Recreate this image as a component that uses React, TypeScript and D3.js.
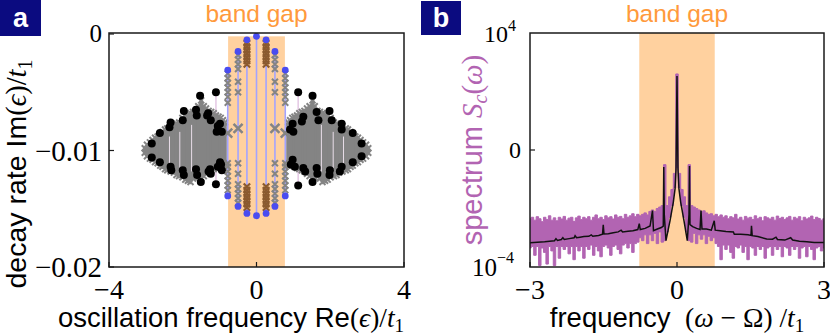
import React from 'react';
import * as d3 from 'd3';

// ---------- panel a: complex eigenvalues ----------
const bandGap = [-0.77, 0.77];

// blue dots in the gap (x, Im)
const blueDots = [
  [0, -0.0002], [0, -0.0156],
  [-0.26, -0.0005], [0.26, -0.0005], [-0.26, -0.0154], [0.26, -0.0154],
  [-0.5, -0.0015], [0.5, -0.0015], [-0.5, -0.0148], [0.5, -0.0148],
  [-0.78, -0.0031], [0.78, -0.0031], [-0.78, -0.0139], [0.78, -0.0139],
];

// blue connecting lines (x, top, bottom)
const blueLines = [
  [0, -0.0002, -0.0156], [-0.26, -0.0005, -0.0154], [0.26, -0.0005, -0.0154],
  [-0.5, -0.0015, -0.0148], [0.5, -0.0015, -0.0148],
  [-0.78, -0.0031, -0.0139], [0.78, -0.0031, -0.0139],
];

const brownX = [-0.26, 0.26];
const brownY = [-0.0008, -0.0011, -0.0014, -0.0017, -0.002, -0.0023, -0.0026,
  -0.0131, -0.0134, -0.0137, -0.014, -0.0143, -0.0146, -0.0149];

// gray crosses in gap columns
const gapGrayX77 = [-0.78, 0.78];
const gapGrayY77 = [-0.0034, -0.0038, -0.0042, -0.0046, -0.005, -0.0054, -0.0059,
  -0.0111, -0.0114, -0.0118, -0.0122, -0.0126, -0.013, -0.0134];
const gapGrayX50 = [-0.5, 0.5];
const gapGrayY50 = [-0.0018, -0.0022, -0.0026, -0.003, -0.0041, -0.005,
  -0.0111, -0.012, -0.0129, -0.0133, -0.0137, -0.0141, -0.0145];
// the big crosses near the centre of the gap columns
const bigCross = [[-0.78, -0.0085], [0.78, -0.0085], [-0.5, -0.0081], [0.5, -0.0081]];

// gray clouds outside the gap (x, top, bottom)
const grayColsL = [
  [-3.03, -0.0098, -0.0102], [-2.97, -0.0095, -0.0105], [-2.89, -0.0093, -0.0107],
  [-2.82, -0.0091, -0.0108], [-2.75, -0.0089, -0.011], [-2.68, -0.0088, -0.0111],
  [-2.61, -0.0086, -0.0113], [-2.55, -0.0084, -0.0114], [-2.48, -0.0082, -0.0116],
  [-2.42, -0.0081, -0.0117], [-2.33, -0.0079, -0.0118], [-2.24, -0.0078, -0.0119],
  [-2.17, -0.0077, -0.0121], [-2.1, -0.0076, -0.0122], [-2.01, -0.0072, -0.0123],
  [-1.93, -0.007, -0.0125], [-1.86, -0.0069, -0.0126], [-1.79, -0.0068, -0.0127],
  [-1.72, -0.0067, -0.0124], [-1.65, -0.0066, -0.0122], [-1.58, -0.0062, -0.0123],
  [-1.5, -0.0057, -0.0124], [-1.43, -0.0062, -0.0122], [-1.37, -0.0064, -0.012],
  [-1.3, -0.0066, -0.0118], [-1.23, -0.0067, -0.0117], [-1.16, -0.0068, -0.0116],
  [-1.1, -0.007, -0.0115], [-1.03, -0.0071, -0.0114], [-0.97, -0.0072, -0.0113],
  [-0.91, -0.0074, -0.0112], [-0.86, -0.0076, -0.0111],
];
const grayColsR = [
  [3.03, -0.0098, -0.0102], [2.97, -0.0095, -0.0105], [2.89, -0.0093, -0.0107],
  [2.82, -0.0091, -0.0108], [2.75, -0.0089, -0.011], [2.68, -0.0088, -0.0111],
  [2.61, -0.0086, -0.0113], [2.55, -0.0084, -0.0114], [2.48, -0.0082, -0.0116],
  [2.42, -0.0081, -0.0117], [2.33, -0.0079, -0.0118], [2.24, -0.0078, -0.0119],
  [2.17, -0.0077, -0.0121], [2.1, -0.0076, -0.0122], [2.01, -0.0072, -0.0123],
  [1.93, -0.007, -0.0125], [1.86, -0.0069, -0.0126], [1.79, -0.0068, -0.0127],
  [1.72, -0.0067, -0.0124], [1.65, -0.0066, -0.0122], [1.58, -0.0062, -0.0123],
  [1.52, -0.0057, -0.0124], [1.44, -0.0062, -0.0122], [1.37, -0.0064, -0.012],
  [1.3, -0.0066, -0.0118], [1.23, -0.0067, -0.0117], [1.16, -0.0068, -0.0116],
  [1.1, -0.007, -0.0115], [1.03, -0.0071, -0.0114], [0.97, -0.0072, -0.0113],
  [0.91, -0.0074, -0.0112], [0.86, -0.0076, -0.0111],
];
// white gaps seen inside the clouds (x, top, bottom)
const cloudGaps = [
  [-2.36, -0.0088, -0.0112], [-2.08, -0.0084, -0.0115], [-1.76, -0.0078, -0.0118],
  [2.36, -0.0088, -0.0112], [2.08, -0.0084, -0.0115], [1.76, -0.0078, -0.0118],
];

const pinkLines = [
  [-1.1, -0.005, -0.0129], [-1.53, -0.0053, -0.0127],
  [1.13, -0.005, -0.013], [1.52, -0.0053, -0.0127],
];

const blackDots = [
  [-1.53, -0.0053], [-1.1, -0.005], [-1.97, -0.0066], [-1.64, -0.0065], [-1.62, -0.007],
  [-1.34, -0.007], [-1.24, -0.0074], [-2.0, -0.0074], [-2.33, -0.0076], [-2.36, -0.008],
  [-0.99, -0.0077], [-1.08, -0.0084], [-0.94, -0.0084], [-2.62, -0.0085], [-2.84, -0.0094],
  [-2.84, -0.0106], [-2.62, -0.011], [-2.33, -0.0114], [-2.31, -0.0117], [-2.0, -0.0117],
  [-1.97, -0.0121], [-1.64, -0.0116], [-1.61, -0.0121], [-1.26, -0.0116], [-1.24, -0.012],
  [-0.99, -0.011], [-0.94, -0.0117], [-1.51, -0.0127], [-1.1, -0.0129], [-1.31, -0.0068],
  [-1.05, -0.0079], [-0.96, -0.0112], [-1.3, -0.0118], [-1.05, -0.0114],
  [1.13, -0.005], [1.52, -0.0053], [1.27, -0.0071], [1.63, -0.0067], [1.68, -0.0074],
  [1.98, -0.0066], [2.04, -0.0074], [2.31, -0.0077], [2.31, -0.0082], [2.61, -0.0085],
  [2.85, -0.0094], [2.85, -0.0105], [2.61, -0.011], [2.31, -0.0114], [2.26, -0.0118],
  [1.99, -0.0117], [1.98, -0.0121], [1.63, -0.0115], [1.65, -0.012], [1.27, -0.0115],
  [1.32, -0.0118], [1.52, -0.0127], [1.13, -0.013], [0.98, -0.0077], [1.0, -0.0084],
  [0.91, -0.0082], [0.98, -0.0108], [0.93, -0.0112], [1.04, -0.0114], [1.23, -0.0075],
];

const aTicksX = [-4, 0, 4];
const aTicksY = [0, -0.01, -0.02];
const aTickLabelsY = ['0', '\u22120.01', '\u22120.02'];
const aTickLabelsX = ['\u22124', '0', '4'];

// ---------- panel b: spectrum ----------
const specX = d3.range(121).map(i => -3 + i * 0.05);
const specHi = [
  -2.35, -2.3, -2.4, -2.28, -2.35, -2.45, -2.3, -2.38, -2.25, -2.4,
  -2.32, -2.42, -2.3, -2.36, -2.27, -2.4, -2.33, -2.3, -2.44, -2.32,
  -2.26, -2.38, -2.3, -2.35, -2.28, -2.4, -2.3, -2.22, -2.35, -2.3,
  -2.38, -2.25, -2.32, -2.28, -2.36, -2.22, -2.3, -2.27, -2.35, -2.2,
  -2.3, -2.25, -2.18, -2.28, -2.2, -2.25, -2.2, -2.15, -2.22, -2.1,
  -2.05, -2.1, -2.0, -1.95, -1.9, -0.5, -1.9, -1.6, -1.35, -0.8,
  2.6,
  -0.8, -1.35, -1.6, -1.9, -0.5, -1.9, -1.95, -2.0, -2.05, -2.1,
  -2.08, -2.15, -2.2, -2.18, -2.25, -2.2, -2.28, -2.22, -2.3, -2.25,
  -2.35, -2.28, -2.32, -2.2, -2.36, -2.3, -2.4, -2.27, -2.33, -2.3,
  -2.38, -2.25, -2.35, -2.3, -2.42, -2.28, -2.32, -2.36, -2.3, -2.4,
  -2.26, -2.34, -2.3, -2.38, -2.32, -2.27, -2.4, -2.3, -2.35, -2.28,
  -2.42, -2.3, -2.36, -2.32, -2.26, -2.38, -2.3, -2.34, -2.4, -2.35,
];
const specLo = [
  -3.35, -3.3, -3.6, -3.3, -3.95, -3.35, -3.5, -3.9, -3.3, -3.45,
  -3.95, -3.3, -3.7, -3.3, -3.4, -3.3, -3.55, -3.3, -3.75, -3.3,
  -3.45, -3.3, -3.7, -3.3, -3.4, -3.25, -3.6, -3.3, -3.45, -3.65,
  -3.3, -3.25, -3.35, -3.6, -3.3, -3.25, -3.4, -3.55, -3.25, -3.2,
  -3.35, -3.2, -3.5, -3.2, -3.15, -3.0, -3.1, -2.9, -3.2, -2.9,
  -3.1, -2.85, -3.2, -2.8, -3.15, -3.1, -2.8, -2.3, -1.9, -1.3,
  -0.6,
  -1.3, -1.9, -2.3, -2.8, -3.1, -3.15, -2.85, -3.2, -2.9, -3.05,
  -2.9, -3.2, -2.95, -3.1, -3.0, -3.2, -3.3, -3.75, -3.25, -3.4,
  -3.25, -3.5, -3.7, -3.3, -3.35, -3.25, -3.5, -3.3, -3.75, -3.3,
  -3.35, -3.6, -3.3, -3.4, -3.3, -3.7, -3.35, -3.3, -3.6, -3.3,
  -3.4, -3.3, -3.65, -3.3, -3.35, -3.6, -3.3, -3.4, -3.3, -3.7,
  -3.35, -3.3, -3.65, -3.3, -3.4, -3.75, -3.35, -3.3, -3.45, -3.35,
];
// black theory line (x, log10 S)
const theory = [
  [-3.0, -3.17], [-2.85, -3.15], [-2.7, -3.14], [-2.6, -3.12], [-2.5, -3.1], [-2.47, -3.03],
  [-2.44, -3.09], [-2.36, -3.06], [-2.33, -3.0], [-2.3, -3.06], [-2.2, -3.03], [-2.1, -3.0],
  [-2.08, -2.93], [-2.05, -3.0], [-1.98, -2.98], [-1.9, -2.96], [-1.8, -2.95], [-1.75, -2.9],
  [-1.72, -2.95], [-1.6, -2.92], [-1.52, -2.88], [-1.505, -2.56], [-1.49, -2.87], [-1.4, -2.86],
  [-1.3, -2.83], [-1.2, -2.8], [-1.14, -2.74], [-1.11, -2.8], [-1.0, -2.78], [-0.9, -2.76],
  [-0.8, -2.72], [-0.77, -2.52], [-0.75, -2.72], [-0.65, -2.68], [-0.55, -2.6], [-0.5, -2.07],
  [-0.48, -2.76], [-0.4, -2.7], [-0.32, -2.65], [-0.28, -2.6], [-0.27, -0.58], [-0.26, -2.2],
  [-0.225, -3.1], [-0.143, -2.42], [-0.075, -1.78], [-0.04, -1.33], [-0.02, -0.65], [0, 2.53],
  [0.02, -0.65], [0.04, -1.33], [0.075, -1.78], [0.143, -2.42], [0.21, -3.1], [0.245, -2.2],
  [0.255, -0.55], [0.265, -2.55], [0.32, -2.62], [0.4, -2.68], [0.47, -2.72], [0.49, -2.07],
  [0.51, -2.7], [0.6, -2.7], [0.7, -2.74], [0.76, -2.42], [0.78, -2.74], [0.88, -2.76],
  [1.0, -2.79], [1.15, -2.8], [1.17, -2.88], [1.3, -2.88], [1.45, -2.9], [1.51, -2.92],
  [1.52, -2.59], [1.535, -2.93], [1.65, -2.96], [1.83, -3.04], [1.95, -3.05], [2.02, -2.98],
  [2.05, -3.06], [2.2, -3.08], [2.32, -3.0], [2.36, -3.08], [2.5, -3.12], [2.65, -3.14],
  [2.8, -3.16], [3.0, -3.16],
];
const bTicksX = [-3, 0, 3];
const bTickLabelsX = ['\u22123', '0', '3'];

const SANS = 'Liberation Sans, Arial, sans-serif';
const SERIF = 'Liberation Serif, Times New Roman, serif';
const ORANGE = '#ff9a3c';
const GAP = '#ffd19f';
const PURPLE = '#b264b2';
const NAVY = '#0b0b80';
const GRAY = '#848484';

const cross = (cx: number, cy: number, s: number) =>
  `M${cx - s},${cy - s}L${cx + s},${cy + s}M${cx - s},${cy + s}L${cx + s},${cy - s}`;

export default function App() {
  // panel a scales
  const xa = d3.scaleLinear().domain([-4, 4]).range([109, 404]);
  const ya = d3.scaleLinear().domain([-0.02, 0]).range([267, 34]);
  // panel b scales
  const xb = d3.scaleLinear().domain([-3, 3]).range([530, 824]);
  const yb = d3.scaleLog().domain([1e-4, 1e4]).range([267, 33]);

  const area = d3.area<number>()
    .x((d, i) => xb(specX[i]))
    .y0((d, i) => yb(Math.pow(10, specLo[i])))
    .y1((d, i) => yb(Math.pow(10, specHi[i])))
    .curve(d3.curveStep);
  const line = d3.line<number[]>()
    .x(d => xb(d[0]))
    .y(d => yb(Math.pow(10, d[1])));

  return (
    <svg width={830} height={335} style={{ position: 'absolute', left: 0, top: 0, background: '#fff' }}>
      <defs>
        <clipPath id="clipA"><rect x={109} y={33} width={295} height={234} /></clipPath>
        <clipPath id="clipB"><rect x={530} y={33} width={294} height={234} /></clipPath>
      </defs>

      {/* ---------------- panel a ---------------- */}
      <rect x={0} y={0} width={41} height={36} fill={NAVY} />
      <text x={20.5} y={27} textAnchor="middle" fill="#fff" fontFamily={SANS} fontWeight="bold" fontSize={27}>a</text>
      <text x={xa(0)} y={22} textAnchor="middle" fill={ORANGE} fontFamily={SANS} fontSize={24.5}>band gap</text>

      <g clipPath="url(#clipA)">
        <rect x={xa(bandGap[0])} y={ya(-0.0002)} width={xa(bandGap[1]) - xa(bandGap[0])} height={267 - ya(-0.0002)} fill={GAP} />
        {pinkLines.map((d, i) => (
          <line key={'p' + i} x1={xa(d[0])} x2={xa(d[0])} y1={ya(d[1])} y2={ya(d[2])} stroke="#e6cbe6" strokeWidth={1.6} />
        ))}
        {[...grayColsL, ...grayColsR].map((d, i) => (
          <g key={'g' + i}>
            <line x1={xa(d[0])} x2={xa(d[0])} y1={ya(d[1])} y2={ya(d[2])} stroke={GRAY} strokeWidth={4} />
            <path d={cross(xa(d[0]), ya(d[1]), 3)} stroke={GRAY} strokeWidth={2} fill="none" />
            <path d={cross(xa(d[0]), ya(d[2]), 3)} stroke={GRAY} strokeWidth={2} fill="none" />
          </g>
        ))}
        {cloudGaps.map((d, i) => (
          <line key={'cg' + i} x1={xa(d[0])} x2={xa(d[0])} y1={ya(d[1])} y2={ya(d[2])} stroke="#e8dde8" strokeWidth={1} />
        ))}
        {blueLines.map((d, i) => (
          <line key={'bl' + i} x1={xa(d[0])} x2={xa(d[0])} y1={ya(d[1])} y2={ya(d[2])} stroke="#a3a3ff" strokeWidth={1.6} />
        ))}
        {gapGrayX77.map(x => gapGrayY77.map((y, j) => (
          <path key={'g77' + x + j} d={cross(xa(x), ya(y), 3)} stroke={GRAY} strokeWidth={2} fill="none" />
        )))}
        {gapGrayX50.map(x => gapGrayY50.map((y, j) => (
          <path key={'g50' + x + j} d={cross(xa(x), ya(y), 3)} stroke={GRAY} strokeWidth={2} fill="none" />
        )))}
        {bigCross.map((d, i) => (
          <path key={'bc' + i} d={cross(xa(d[0]), ya(d[1]), 4.5)} stroke={GRAY} strokeWidth={2.5} fill="none" />
        ))}
        {brownX.map(x => brownY.map((y, j) => (
          <path key={'br' + x + j} d={cross(xa(x), ya(y), 3.2)} stroke="#8b5a2e" strokeWidth={2.2} fill="none" />
        )))}
        {blackDots.map((d, i) => (
          <circle key={'k' + i} cx={xa(d[0])} cy={ya(d[1])} r={4} fill="#000" />
        ))}
        {blueDots.map((d, i) => (
          <circle key={'b' + i} cx={xa(d[0])} cy={ya(d[1])} r={3.4} fill="#4a4cf0" />
        ))}
      </g>
      <rect x={109} y={33} width={295} height={234} fill="none" stroke="#1a1a1a" strokeWidth={1.5} />
      {aTicksY.map(t => (
        <line key={'ty' + t} x1={109} x2={114} y1={ya(t)} y2={ya(t)} stroke="#1a1a1a" strokeWidth={1.2} />
      ))}
      {aTicksX.map(t => (
        <line key={'tx' + t} x1={xa(t)} x2={xa(t)} y1={267} y2={262} stroke="#1a1a1a" strokeWidth={1.2} />
      ))}
      {aTicksY.map((t, i) => (
        <text key={'ly' + t} x={102} y={ya(t) + (i === 0 ? 8 : 10)} textAnchor="end" fontFamily={SERIF} fontSize={i === 0 ? 25 : 29}>{aTickLabelsY[i]}</text>
      ))}
      {aTicksX.map((t, i) => (
        <text key={'lx' + t} x={xa(t)} y={299} textAnchor="middle" fontFamily={SERIF} fontSize={28}>{aTickLabelsX[i]}</text>
      ))}
      <text x={231} y={327} textAnchor="middle" fontFamily={SANS} fontSize={27.5}>
        oscillation frequency Re<tspan fontFamily={SERIF}>(</tspan><tspan fontFamily={SERIF} fontStyle="italic">ϵ</tspan><tspan fontFamily={SERIF}>)/</tspan><tspan fontFamily={SERIF} fontStyle="italic">t</tspan><tspan fontFamily={SERIF} fontSize={19} dy={5}>1</tspan>
      </text>
      <text transform="translate(26,174) rotate(-90)" textAnchor="middle" fontFamily={SANS} fontSize={28.5}>
        decay rate Im<tspan fontFamily={SERIF}>(</tspan><tspan fontFamily={SERIF} fontStyle="italic">ϵ</tspan><tspan fontFamily={SERIF}>)/</tspan><tspan fontFamily={SERIF} fontStyle="italic">t</tspan><tspan fontFamily={SERIF} fontSize={20} dy={6}>1</tspan>
      </text>

      {/* ---------------- panel b ---------------- */}
      <rect x={421} y={1} width={40} height={34} fill={NAVY} />
      <text x={441} y={27} textAnchor="middle" fill="#fff" fontFamily={SANS} fontWeight="bold" fontSize={27}>b</text>
      <text x={xb(0)} y={22} textAnchor="middle" fill={ORANGE} fontFamily={SANS} fontSize={24.5}>band gap</text>

      <g clipPath="url(#clipB)">
        <rect x={xb(bandGap[0])} y={33} width={xb(bandGap[1]) - xb(bandGap[0])} height={234} fill={GAP} />
        <path d={area(specX) || ''} fill={PURPLE} stroke={PURPLE} strokeWidth={1} />
        <path d={line(theory) || ''} fill="none" stroke="#111" strokeWidth={1.5} />
      </g>
      <rect x={530} y={33} width={294} height={234} fill="none" stroke="#1a1a1a" strokeWidth={1.5} />
      <line x1={530} x2={535} y1={yb(1)} y2={yb(1)} stroke="#1a1a1a" strokeWidth={1.2} />
      {bTicksX.map(t => (
        <line key={'bx' + t} x1={xb(t)} x2={xb(t)} y1={267} y2={262} stroke="#1a1a1a" strokeWidth={1.2} />
      ))}
      {bTicksX.map((t, i) => (
        <text key={'blx' + t} x={xb(t)} y={299} textAnchor="middle" fontFamily={SERIF} fontSize={28}>{bTickLabelsX[i]}</text>
      ))}
      <text x={508} y={42} textAnchor="end" fontFamily={SERIF} fontSize={24}>10</text>
      <text x={508} y={31} textAnchor="start" fontFamily={SERIF} fontSize={16}>4</text>
      <text x={521} y={yb(1) + 8} textAnchor="end" fontFamily={SERIF} fontSize={24}>0</text>
      <text x={497} y={276} textAnchor="end" fontFamily={SERIF} fontSize={25}>10</text>
      <text x={497} y={263} textAnchor="start" fontFamily={SERIF} fontSize={16}>{'\u22124'}</text>
      <text x={677} y={327} textAnchor="middle" fontFamily={SANS} fontSize={27.5}>
        frequency <tspan fontFamily={SERIF}>{'\u00a0'}(</tspan><tspan fontFamily={SERIF} fontStyle="italic">ω</tspan><tspan fontFamily={SERIF}> − Ω) /</tspan><tspan fontFamily={SERIF} fontStyle="italic">t</tspan><tspan fontFamily={SERIF} fontSize={19} dy={5}>1</tspan>
      </text>
      <text transform="translate(482,150) rotate(-90)" textAnchor="middle" fill={PURPLE} fontFamily={SANS} fontSize={29}>
        spectrum <tspan fontFamily={SERIF} fontStyle="italic">S</tspan><tspan fontFamily={SERIF} fontStyle="italic" fontSize={20} dy={5}>c</tspan><tspan fontFamily={SERIF} dy={-5}>(</tspan><tspan fontFamily={SERIF} fontStyle="italic">ω</tspan><tspan fontFamily={SERIF}>)</tspan>
      </text>
    </svg>
  );
}
